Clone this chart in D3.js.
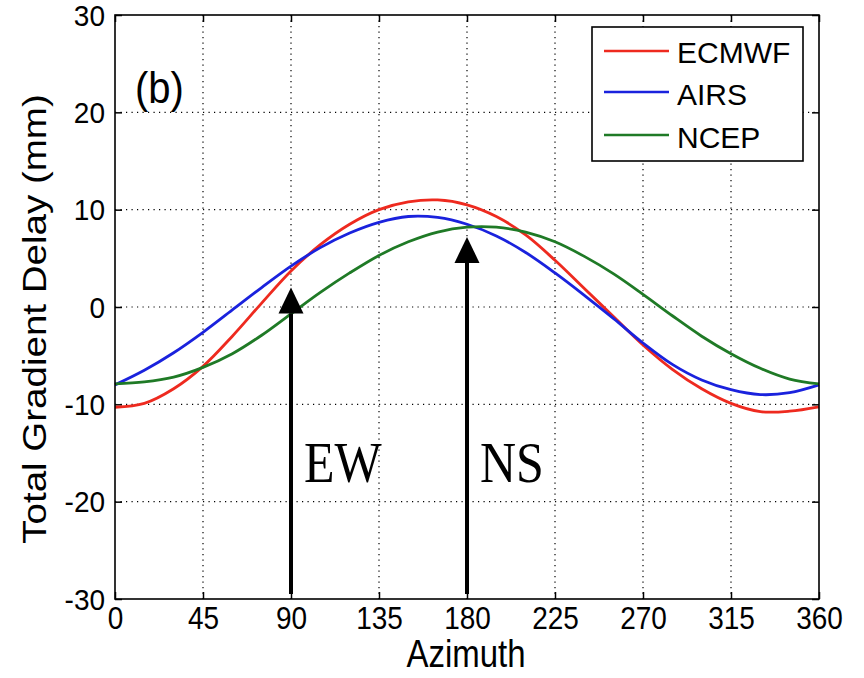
<!DOCTYPE html>
<html><head><meta charset="utf-8">
<script src="https://cdn.jsdelivr.net/npm/d3@7"></script>
<style>body{margin:0;background:#fff}svg{display:block}</style>
</head><body>
<svg id="chart" width="864" height="678"></svg>
<script>
const azimuth = [0,15,30,45,60,75,90,105,120,135,150,165,180,195,210,225,240,255,270,285,300,315,330,345,360];
const ecmwf = [-10.3,-9.9,-8.4,-6.1,-3.0,0.4,3.7,6.4,8.5,10.0,10.8,11.0,10.5,9.3,7.4,4.8,1.9,-1.0,-3.9,-6.4,-8.4,-9.9,-10.75,-10.7,-10.25];
const airs  = [-8.0,-6.5,-4.7,-2.6,-0.3,2.0,4.2,6.1,7.6,8.7,9.3,9.2,8.5,7.3,5.6,3.5,1.2,-1.2,-3.7,-5.9,-7.5,-8.5,-9.0,-8.8,-8.0];
const ncep  = [-7.9,-7.7,-7.2,-6.2,-4.8,-2.9,-0.7,1.5,3.5,5.3,6.7,7.7,8.2,8.2,7.7,6.7,5.2,3.4,1.3,-0.9,-3.0,-4.8,-6.3,-7.4,-7.9];
const seriesNames = ["ECMWF","AIRS","NCEP"];
const seriesColors = ["#ee2a1f","#1a22dd","#1f7a26"];
const xTicks = [0,45,90,135,180,225,270,315,360];
const yTicks = [-30,-20,-10,0,10,20,30];
const arrowLabels = ["EW","NS"];
const arrowAz = [90,180];
const arrowTip = [2.0,7.2];

const svg = d3.select("#chart");
const L=115, R=819, T=15, B=599;
const x = d3.scaleLinear().domain([0,360]).range([L,R]);
const y = d3.scaleLinear().domain([-30,30]).range([B,T]);
const font = "'Liberation Sans', Arial, sans-serif";
const K = 1.15; // vertical stretch of the reference text

function stretchedText(g, X, Y, txt, size, k, anchor, fam){
  return g.append("text").attr("transform",`translate(${X},${Y}) scale(1,${k})`)
    .attr("text-anchor",anchor||"start").attr("font-family",fam||font).attr("font-size",size)
    .attr("fill","#000").text(txt);
}

// grid
const grid = svg.append("g").attr("stroke","#000").attr("stroke-width",1.2).attr("stroke-dasharray","1.2,4.3");
grid.selectAll(".gx").data(xTicks.slice(1,-1)).join("line")
  .attr("x1",d=>x(d)).attr("x2",d=>x(d)).attr("y1",T).attr("y2",B);
grid.selectAll(".gy").data(yTicks.slice(1,-1)).join("line")
  .attr("y1",d=>y(d)).attr("y2",d=>y(d)).attr("x1",L).attr("x2",R);

// axes with inward ticks
const fmt = d => String(d);
const axB = svg.append("g").attr("transform",`translate(0,${B})`)
  .call(d3.axisBottom(x).tickValues(xTicks).tickSizeInner(-7).tickSizeOuter(0).tickFormat(fmt));
const axT = svg.append("g").attr("transform",`translate(0,${T})`)
  .call(d3.axisTop(x).tickValues(xTicks).tickSizeInner(-7).tickSizeOuter(0).tickFormat(""));
const axL = svg.append("g").attr("transform",`translate(${L},0)`)
  .call(d3.axisLeft(y).tickValues(yTicks).tickSizeInner(-7).tickSizeOuter(0).tickPadding(10).tickFormat(fmt));
const axR = svg.append("g").attr("transform",`translate(${R},0)`)
  .call(d3.axisRight(y).tickValues(yTicks).tickSizeInner(-7).tickSizeOuter(0).tickFormat(""));
[axB,axT,axL,axR].forEach(a=>{a.select(".domain").remove();a.selectAll("line").attr("stroke","#000").attr("stroke-width",1.5);});
axB.selectAll("text").attr("font-family",font).attr("font-size",28).attr("fill","#000")
  .attr("y",0).attr("dy",null).attr("transform",`translate(0,30) scale(1,1.12)`);
axL.selectAll("text").attr("font-family",font).attr("font-size",28).attr("fill","#000")
  .attr("dy",null).attr("y",0).attr("transform",`translate(0,10) scale(1,1.05)`);

// curves
const line = d3.line().x((d,i)=>x(azimuth[i])).y(d=>y(d)).curve(d3.curveCatmullRom.alpha(0.5));
[ecmwf,airs,ncep].forEach((s,k)=>{
  svg.append("path").attr("d",line(s)).attr("fill","none").attr("stroke",seriesColors[k]).attr("stroke-width",2.8);
});

// box
svg.append("rect").attr("x",L).attr("y",T).attr("width",R-L).attr("height",B-T)
  .attr("fill","none").attr("stroke","#000").attr("stroke-width",1.6);

// arrows
arrowAz.forEach((a,i)=>{
  const ax = x(a), tipY = y(arrowTip[i]), baseY = tipY+26;
  svg.append("line").attr("x1",ax).attr("x2",ax).attr("y1",y(-30)-5).attr("y2",baseY)
    .attr("stroke","#000").attr("stroke-width",4);
  svg.append("path").attr("d",`M${ax},${tipY}L${ax-12.5},${baseY}L${ax+12.5},${baseY}Z`).attr("fill","#000");
  stretchedText(svg, ax+13, 482, arrowLabels[i], 50, 1.12, "start", "'Liberation Serif','Times New Roman',serif");
});

// (b)
stretchedText(svg, 135, 103, "(b)", 40, 1.1);

// legend
const lg = svg.append("g");
lg.append("rect").attr("x",592).attr("y",27).attr("width",211).attr("height",134)
  .attr("fill","#fff").attr("stroke","#000").attr("stroke-width",1.6);
seriesNames.forEach((n,i)=>{
  const yy = [51,92,135][i];
  lg.append("line").attr("x1",604).attr("x2",669).attr("y1",yy).attr("y2",yy)
    .attr("stroke",seriesColors[i]).attr("stroke-width",2.6);
  stretchedText(lg, 677, [63,105,148][i], n, 30, 1.0);
});

// axis titles
stretchedText(svg, 466, 667, "Azimuth", 33, K, "middle");
svg.append("text").attr("transform",`translate(46,319) rotate(-90) scale(${K},1)`).attr("text-anchor","middle")
  .text("Total Gradient Delay (mm)").attr("font-family",font).attr("font-size",33.5).attr("fill","#000");
</script>
</body></html>
